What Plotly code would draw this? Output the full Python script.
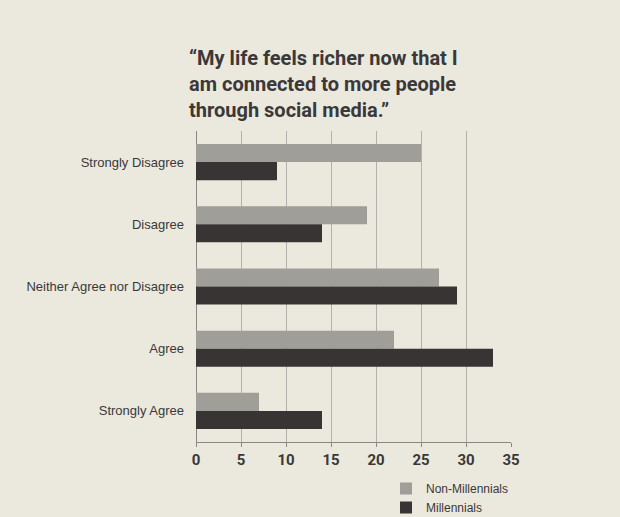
import plotly.graph_objects as go

categories = ["Strongly Disagree", "Disagree", "Neither Agree nor Disagree", "Agree", "Strongly Agree"]
non_millennials = [25, 19, 27, 22, 7]
millennials = [9, 14, 29, 33, 14]
x_ticks = [0, 5, 10, 15, 20, 25, 30, 35]

PAPER = "#ebe8de"
GREY = "#a09e99"
DARK = "#383434"
TEXT = "#3a3838"
BOLDFONT = "Roboto, Liberation Sans, sans-serif"

fig = go.Figure()
fig.add_trace(go.Bar(y=categories, x=non_millennials, orientation="h",
                     name="Non-Millennials", marker=dict(color=GREY, line=dict(width=0))))
fig.add_trace(go.Bar(y=categories, x=millennials, orientation="h",
                     name="Millennials", marker=dict(color=DARK, line=dict(width=0))))

fig.update_layout(
    width=620, height=517,
    paper_bgcolor=PAPER, plot_bgcolor=PAPER,
    margin=dict(l=196, r=109, t=131, b=75, autoexpand=False),
    barmode="group", bargap=0.42, bargroupgap=0,
    title=dict(
        text="“My life feels richer now that I<br>am connected to more people<br>through social media.”",
        x=189/620, xref="container", xanchor="left",
        y=1-65/517, yref="container", yanchor="top",
        font=dict(family=BOLDFONT, size=20, color=TEXT, weight="bold"),
    ),
    xaxis=dict(range=[0, 35], tickvals=x_ticks, showgrid=True, gridcolor="#b3b1ab", gridwidth=1,
               zeroline=True, zerolinecolor="#8a8884", zerolinewidth=1,
               showline=True, linecolor="#8a8884", linewidth=1,
               ticks="outside", ticklen=4, tickcolor="#8a8884",
               tickfont=dict(family=BOLDFONT, size=15, color=TEXT, weight="bold"),
               fixedrange=True, automargin=False),
    yaxis=dict(autorange="reversed", showgrid=False, ticks="", ticklabelstandoff=11,
               tickfont=dict(family="Liberation Sans, Arial, sans-serif", size=13, color=TEXT),
               automargin=False, fixedrange=True),
    legend=dict(x=(386-196)/315, y=(442-474)/311, xanchor="left", yanchor="top",
                traceorder="normal", bgcolor="rgba(0,0,0,0)", tracegroupgap=0,
                font=dict(family="Liberation Sans, Arial, sans-serif", size=12, color=TEXT)),
    showlegend=True,
)

fig.write_html("out.html", config={"displayModeBar": False},
               post_script="document.body.style.margin='0px';document.body.style.overflow='hidden';")
